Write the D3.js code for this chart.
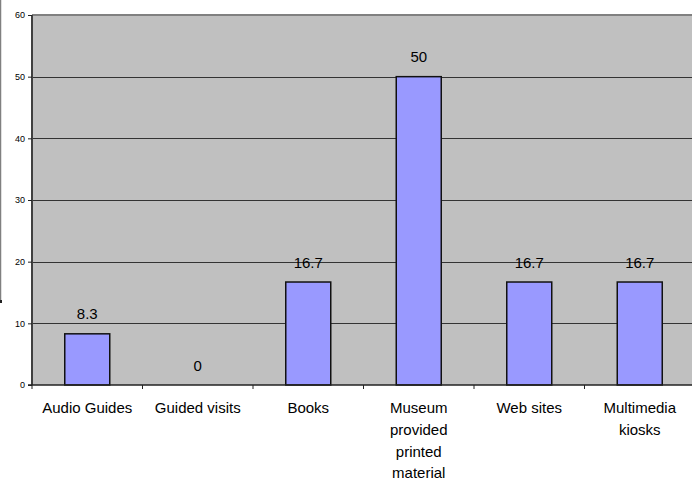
<!DOCTYPE html>
<html>
<head>
<meta charset="utf-8">
<script src="https://cdn.jsdelivr.net/npm/d3@7"></script>
<style>
  body { margin: 0; background: #fff; }
  svg { display: block; font-family: 'Liberation Sans', Arial, sans-serif; }
</style>
</head>
<body>
<div id="chart"></div>
<script>
'use strict';

// chart data
const categories = [
  ['Audio Guides'],
  ['Guided visits'],
  ['Books'],
  ['Museum', 'provided', 'printed', 'material'],
  ['Web sites'],
  ['Multimedia', 'kiosks'],
];
const values = [8.3, 0, 16.7, 50, 16.7, 16.7];
const yTicks = [0, 10, 20, 30, 40, 50, 60];

(function() {
  const width = 692;
  const height = 482;
  const plot = { left: 32, right: 695, top: 15, bottom: 385 };

  const svg = d3.select('#chart')
    .append('svg')
    .attr('width', width)
    .attr('height', height);

  // leftover frame line at the left edge
  svg.append('line')
    .attr('x1', 0.5).attr('x2', 0.5)
    .attr('y1', 0).attr('y2', 300)
    .attr('stroke', '#808080')
    .attr('stroke-width', 1.5);
  svg.append('rect')
    .attr('x', 0).attr('y', 300)
    .attr('width', 2).attr('height', 3)
    .attr('fill', '#222');

  const xScale = d3.scaleBand()
    .domain(d3.range(values.length))
    .range([plot.left, plot.right])
    .paddingInner(0)
    .paddingOuter(0);

  const yScale = d3.scaleLinear()
    .domain([0, 60])
    .range([plot.bottom, plot.top]);

  // plot background
  svg.append('rect')
    .attr('x', plot.left)
    .attr('y', plot.top)
    .attr('width', plot.right - plot.left)
    .attr('height', plot.bottom - plot.top)
    .attr('fill', '#c0c0c0');

  // gridlines
  svg.append('g')
    .selectAll('line')
    .data(yTicks.filter(t => t > 0 && t < 60))
    .enter()
    .append('line')
    .attr('x1', plot.left)
    .attr('x2', plot.right)
    .attr('y1', d => Math.round(yScale(d)) + 0.5)
    .attr('y2', d => Math.round(yScale(d)) + 0.5)
    .attr('stroke', '#333')
    .attr('stroke-width', 1.2);

  // top border
  svg.append('line')
    .attr('x1', plot.left).attr('x2', plot.right)
    .attr('y1', yScale(60)).attr('y2', yScale(60))
    .attr('stroke', '#808080')
    .attr('stroke-width', 2);

  // bars
  const barW = 45;
  svg.append('g')
    .selectAll('rect')
    .data(values)
    .enter()
    .append('rect')
    .attr('x', (d, i) => xScale(i) + xScale.bandwidth() / 2 - barW / 2)
    .attr('y', d => yScale(d))
    .attr('width', barW)
    .attr('height', d => yScale(0) - yScale(d))
    .attr('fill', '#9999ff')
    .attr('stroke', '#111')
    .attr('stroke-width', d => d > 0 ? 1.5 : 0);

  // value labels
  svg.append('g')
    .selectAll('text')
    .data(values)
    .enter()
    .append('text')
    .attr('x', (d, i) => xScale(i) + xScale.bandwidth() / 2)
    .attr('y', d => yScale(d) - 14.5)
    .attr('text-anchor', 'middle')
    .style('font-size', '15px')
    .attr('fill', '#000')
    .text(d => d);

  // y axis
  const yAxis = d3.axisLeft(yScale)
    .tickValues(yTicks)
    .tickSize(4)
    .tickPadding(3)
    .tickFormat(d3.format('d'));
  const gy = svg.append('g')
    .attr('transform', 'translate(' + plot.left + ',0)')
    .call(yAxis);
  gy.select('.domain').attr('stroke', '#404040').attr('stroke-width', 2)
    .attr('d', 'M0,' + plot.top + 'V' + plot.bottom);
  gy.selectAll('.tick line').attr('stroke', '#222');
  gy.selectAll('.tick text')
    .style('font-size', '9px')
    .style('font-family', "'Liberation Sans', Arial, sans-serif")
    .attr('fill', '#000');

  // x axis line and ticks at band edges
  svg.append('line')
    .attr('x1', plot.left - 4).attr('x2', plot.right)
    .attr('y1', plot.bottom).attr('y2', plot.bottom)
    .attr('stroke', '#222')
    .attr('stroke-width', 1.5);
  svg.append('g')
    .selectAll('line')
    .data(d3.range(values.length))
    .enter()
    .append('line')
    .attr('x1', d => xScale(d))
    .attr('x2', d => xScale(d))
    .attr('y1', plot.bottom)
    .attr('y2', plot.bottom + 4)
    .attr('stroke', '#222')
    .attr('stroke-width', 1);

  // category labels
  const labels = svg.append('g')
    .selectAll('text')
    .data(categories)
    .enter()
    .append('text')
    .attr('x', (d, i) => xScale(i) + xScale.bandwidth() / 2)
    .attr('y', 413)
    .attr('text-anchor', 'middle')
    .style('font-size', '15px')
    .attr('fill', '#000');
  labels.selectAll('tspan')
    .data(d => d)
    .enter()
    .append('tspan')
    .attr('x', function() { return d3.select(this.parentNode).attr('x'); })
    .attr('dy', (d, i) => i === 0 ? 0 : 21.8)
    .text(d => d);
})();
</script>
</body>
</html>
